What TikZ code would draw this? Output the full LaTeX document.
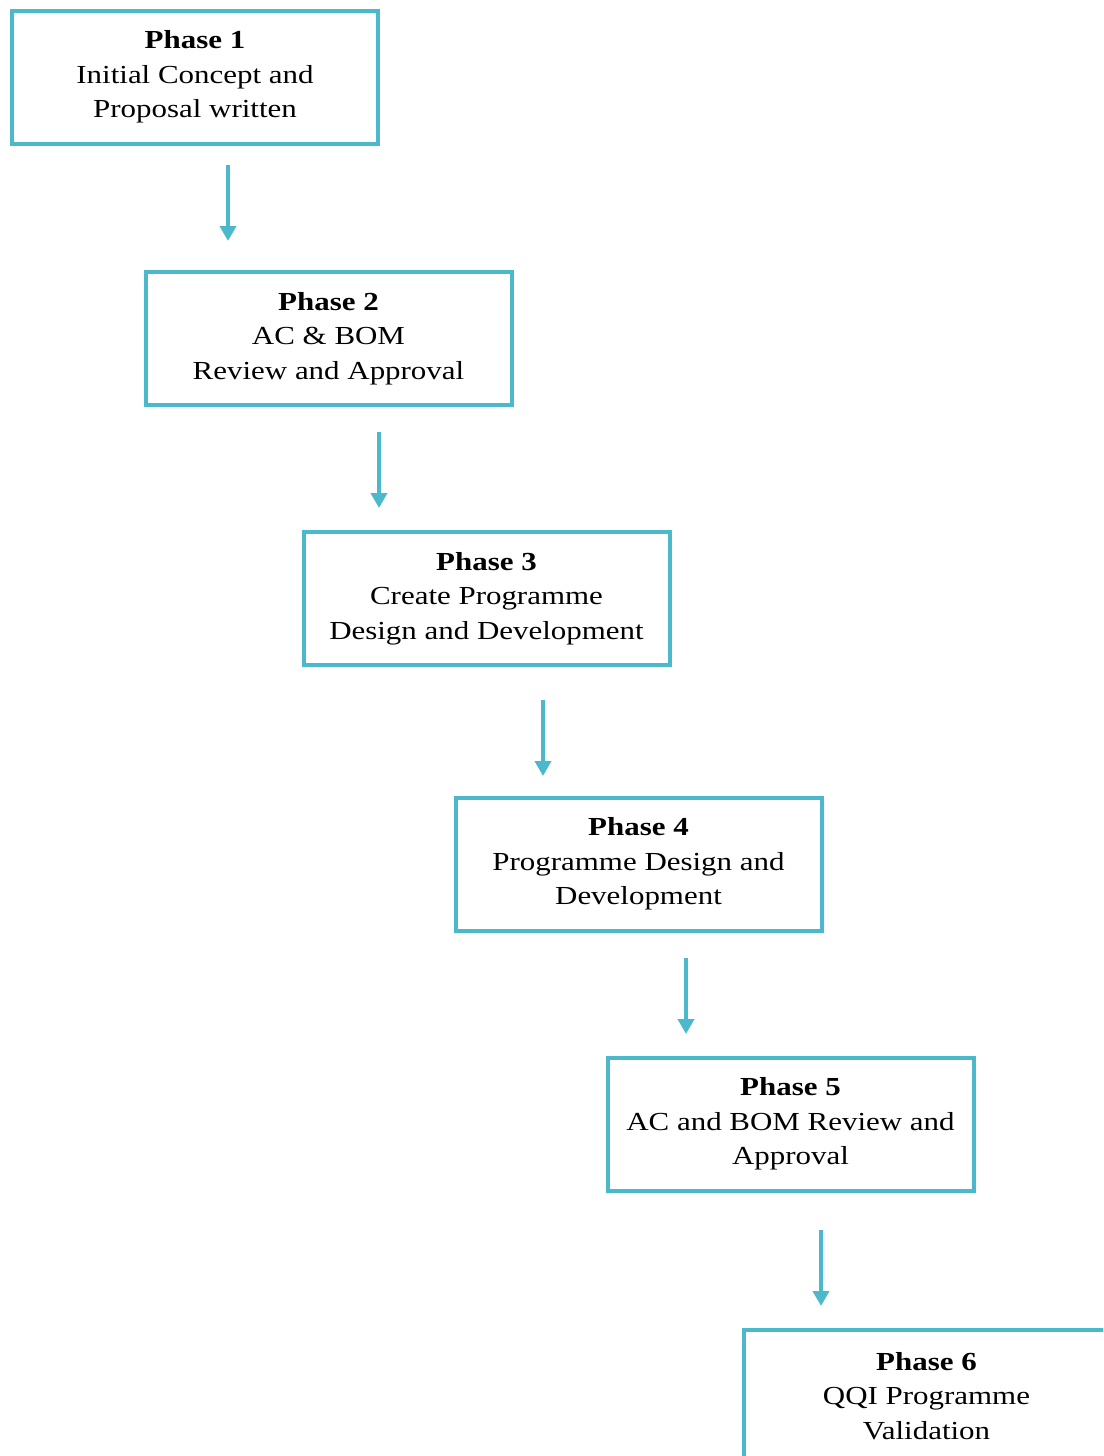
\documentclass[tikz,border=0pt]{standalone}
\usepackage{fontspec}
\setmainfont[FakeStretch=1.19]{Liberation Serif}
\usepackage{xcolor}
\usepackage{tikz}
\usetikzlibrary{positioning,arrows.meta}
\definecolor{PhaseTeal}{RGB}{75,184,204}

\begin{document}
\begin{tikzpicture}[
x=1pt,y=-1pt,
ph/.style={draw=PhaseTeal,line width=4pt,fill=white,minimum width=366pt,minimum height=133pt,align=center,inner sep=0pt,font=\fontsize{26}{34.5}\selectfont},
arr/.style={draw=PhaseTeal,line width=4pt,-{Triangle[width=16pt,length=15pt]}}
]
\useasboundingbox (0,0) rectangle (1103,1456);
\clip (0,0) rectangle (1103,1456);
\node[ph] (p1) at (195,77) {\textbf{Phase 1}\\Initial Concept and\\Proposal written};
\node[ph] (p2) at (328.5,338.5) {\textbf{Phase 2}\\AC \& BOM\\Review and Approval};
\node[ph] (p3) at (486.5,598.5) {\textbf{Phase 3}\\Create Programme\\Design and Development};
\node[ph] (p4) at (638.5,864) {\textbf{Phase 4}\\Programme Design and\\Development};
\node[ph] (p5) at (790.5,1124) {\textbf{Phase 5}\\AC and BOM Review and\\Approval};
\node[ph] (p6) at (926.5,1396) {\textbf{Phase 6}\\QQI Programme\\Validation};
% arrows sit free between the boxes
\coordinate (a1) at (228,165); \coordinate (b1) at (228,241);
\coordinate (a2) at (379,432); \coordinate (b2) at (379,508);
\coordinate (a3) at (543,700); \coordinate (b3) at (543,776);
\coordinate (a4) at (686,958); \coordinate (b4) at (686,1034);
\coordinate (a5) at (821,1230); \coordinate (b5) at (821,1306);
\foreach \i in {1,...,5}
  \draw[arr] (a\i) -- (b\i);
\end{tikzpicture}
\end{document}
